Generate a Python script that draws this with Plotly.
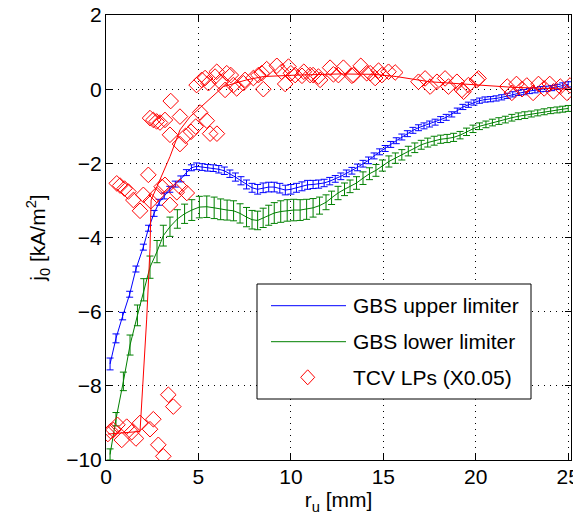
import plotly.graph_objects as go

# ---------------- data ----------------
upper_x = [0.22, 0.54, 0.9, 1.28, 1.62, 2.02, 2.3, 2.6, 2.88, 3.15, 3.45, 3.75, 4.05, 4.35, 4.62, 4.9,
           5.2, 5.5, 5.8, 6.1, 6.4, 6.7, 7.0, 7.3, 7.6, 7.9, 8.2, 8.5, 8.8, 9.1, 9.4, 9.7, 10.0,
           10.3, 10.6, 10.9, 11.2, 11.5, 11.8, 12.1, 12.4, 12.7, 13.0, 13.3, 13.6, 13.9, 14.2,
           14.5, 14.8, 15.1, 15.4, 15.7, 16.0, 16.3, 16.6, 16.9, 17.2, 17.5, 17.8, 18.1, 18.4,
           18.7, 19.0, 19.3, 19.6, 19.9, 20.2, 20.5, 20.8, 21.1, 21.4, 21.7, 22.0, 22.3, 22.6,
           22.9, 23.2, 23.5, 23.8, 24.1, 24.4, 24.7, 25.0]
upper_y = [-7.41, -6.72, -6.12, -5.53, -4.85, -4.26, -3.75, -3.35, -3.05, -2.88, -2.7, -2.56, -2.42,
           -2.25, -2.12, -2.08, -2.1, -2.12, -2.13, -2.16, -2.2, -2.28, -2.37, -2.47, -2.57, -2.66,
           -2.7, -2.66, -2.64, -2.64, -2.67, -2.72, -2.7, -2.66, -2.62, -2.58, -2.57, -2.56, -2.53,
           -2.48, -2.42, -2.35, -2.27, -2.2, -2.11, -2.01, -1.92, -1.8, -1.69, -1.6, -1.49, -1.39,
           -1.29, -1.2, -1.11, -1.04, -0.99, -0.94, -0.89, -0.82, -0.76, -0.68, -0.58, -0.48,
           -0.42, -0.36, -0.31, -0.28, -0.27, -0.25, -0.22, -0.18, -0.14, -0.1, -0.08, -0.05,
           -0.03, 0.0, 0.01, 0.03, 0.06, 0.1, 0.13]
upper_err = [0.16, 0.12, 0.1, 0.08, 0.08, 0.08, 0.08, 0.08, 0.08, 0.08, 0.08, 0.08, 0.08, 0.08,
             0.08, 0.09, 0.09, 0.09, 0.09, 0.1, 0.1, 0.1, 0.11, 0.11, 0.12, 0.12, 0.13, 0.13,
             0.13, 0.13, 0.13, 0.13, 0.13, 0.12, 0.12, 0.12, 0.11, 0.11, 0.1, 0.1, 0.09, 0.09,
             0.09, 0.09, 0.09, 0.09, 0.09, 0.08, 0.08, 0.08, 0.08, 0.08, 0.08, 0.08, 0.08, 0.08,
             0.08, 0.08, 0.08, 0.08, 0.08, 0.07, 0.07, 0.07, 0.07, 0.07, 0.07, 0.07, 0.07, 0.07,
             0.07, 0.07, 0.07, 0.07, 0.07, 0.07, 0.07, 0.07, 0.07, 0.07, 0.07, 0.07, 0.07]

lower_x = [0.22, 0.54, 0.94, 1.3, 1.7, 2.04, 2.38, 2.76, 3.1, 3.46, 3.86, 4.25, 4.64, 5.05, 5.45,
           5.85, 6.2, 6.55, 6.9, 7.25, 7.6, 7.9, 8.2, 8.5, 8.8, 9.1, 9.45, 9.8, 10.15, 10.5,
           10.85, 11.2, 11.55, 11.9, 12.2, 12.55, 12.9, 13.2, 13.55, 13.9, 14.25, 14.6, 14.95,
           15.3, 15.65, 16.0, 16.35, 16.7, 17.05, 17.4, 17.75, 18.1, 18.45, 18.8, 19.15, 19.5,
           19.85, 20.2, 20.55, 20.9, 21.25, 21.6, 21.95, 22.3, 22.65, 23.0, 23.35, 23.7, 24.05,
           24.4, 24.7, 25.0]
lower_y = [-9.85, -8.9, -7.88, -6.9, -6.1, -5.41, -4.8, -4.38, -3.95, -3.71, -3.5, -3.36, -3.26,
           -3.18, -3.17, -3.2, -3.24, -3.26, -3.28, -3.35, -3.45, -3.52, -3.54, -3.47, -3.4,
           -3.34, -3.3, -3.27, -3.26, -3.26, -3.24, -3.2, -3.14, -3.05, -2.93, -2.8, -2.7, -2.62,
           -2.53, -2.4, -2.28, -2.19, -2.06, -1.95, -1.86, -1.77, -1.67, -1.58, -1.5, -1.44,
           -1.39, -1.35, -1.33, -1.3, -1.24, -1.15, -1.07, -1.0, -0.95, -0.9, -0.86, -0.82,
           -0.77, -0.73, -0.7, -0.67, -0.64, -0.61, -0.58, -0.56, -0.54, -0.52]
lower_err = [0.15, 0.18, 0.25, 0.27, 0.28, 0.3, 0.3, 0.3, 0.28, 0.26, 0.25, 0.26, 0.28, 0.29,
             0.29, 0.29, 0.28, 0.27, 0.27, 0.26, 0.26, 0.25, 0.25, 0.26, 0.27, 0.28, 0.29, 0.29,
             0.29, 0.28, 0.27, 0.25, 0.23, 0.2, 0.18, 0.18, 0.17, 0.17, 0.17, 0.17, 0.16, 0.16,
             0.15, 0.15, 0.14, 0.14, 0.13, 0.13, 0.12, 0.12, 0.12, 0.11, 0.11, 0.11, 0.1, 0.1,
             0.1, 0.09, 0.09, 0.09, 0.09, 0.09, 0.09, 0.09, 0.09, 0.08, 0.08, 0.08, 0.08, 0.08,
             0.08, 0.08]

lp_x = [0.1, 0.25, 0.4, 0.62, 0.85, 1.12, 1.39, 1.62, 1.84, 2.38, 2.56, 2.83, 3.1, 3.37, 3.64,
        0.58, 0.76, 1.0, 1.21, 1.48, 1.84, 2.02, 2.29, 2.42, 2.74, 3.01, 3.19, 3.46, 3.83, 4.0, 4.37,
        2.38, 2.56, 2.74, 2.92, 3.19, 3.5, 3.46, 4.0, 4.0, 4.3, 4.6, 4.85, 5.09, 5.45, 5.63, 6.0,
        4.9, 5.18, 5.36, 5.54, 5.9, 5.99, 6.17, 6.44, 6.53, 6.75, 6.89, 7.07, 7.43, 7.52, 7.97,
        8.24, 8.42, 8.51, 8.69, 9.24, 9.5, 9.69, 9.87, 10.0, 10.23, 10.6, 10.7, 11.04, 11.2,
        11.49, 11.58, 12.12, 12.3, 12.57, 12.84, 13.3, 13.38, 13.78, 14.1, 14.29, 14.56, 14.74,
        14.92, 15.28, 15.64,
        16.9, 17.26, 17.53, 17.9, 18.34, 18.52, 18.98, 19.25, 19.6, 20.06, 19.34, 20.15,
        21.7, 21.95, 22.2, 22.5, 22.76, 23.1, 23.39, 23.7, 24.0, 24.2, 24.57, 24.93, 25.1]
lp_y = [-9.3, -9.22, -9.19, -9.05, -9.46, -9.1, -9.25, -9.42, -9.0, -9.17, -8.9, -9.59, -9.9,
        -8.24, -8.56,
        -2.54, -2.6, -2.68, -2.76, -2.99, -3.28, -2.85, -2.31, -3.02, -2.85, -2.63, -2.58, -3.12,
        -2.78, -2.63, -2.8,
        -0.78, -0.83, -0.87, -0.9, -0.83, -0.32, -1.23, -0.74, -1.48, -1.26, -1.15, -1.01, -0.63,
        -0.85, -1.2, -1.2,
        0.11, 0.25, 0.3, 0.16, 0.34, 0.47, 0.2, -0.02, 0.43, 0.38, 0.11, 0.02, 0.16, 0.25, 0.3,
        0.38, 0.43, 0.0, 0.54, 0.63, 0.47, 0.14, 0.61, 0.43, 0.38, 0.36, 0.47, 0.38, 0.38,
        0.34, 0.25, 0.58, 0.4, 0.38, 0.58, 0.36, 0.38, 0.63, 0.43, 0.43, 0.3, 0.5,
        0.38, 0.47, 0.45,
        0.2, 0.29, 0.07, 0.2, 0.29, 0.07, 0.2, -0.02, 0.11, 0.25, -0.07, 0.29,
        0.07, -0.1, 0.14, 0.0, 0.1, -0.1, 0.14, 0.02, 0.14, -0.06, 0.07, -0.1, 0.1]

fit_x = [0.1, 1.84, 2.2, 2.38, 2.44, 3.46, 4.0, 4.55, 5.09, 6.35, 7.6, 8.5, 10.3, 12.66, 14.5,
         15.7, 17.5, 19.9, 22.0, 25.1]
fit_y = [-9.3, -9.23, -6.2, -4.3, -2.99, -1.82, -1.1, -0.74, -0.5, 0.07, 0.25, 0.34, 0.38, 0.41,
         0.4, 0.34, 0.2, 0.11, 0.05, 0.0]

x_ticks = [0, 5, 10, 15, 20, 25]
y_ticks = [-10, -8, -6, -4, -2, 0, 2]
legend_names = ["GBS upper limiter", "GBS lower limiter", "TCV LPs (X0.05)"]

BLUE = "rgb(0,0,255)"
GREEN = "rgb(0,128,0)"
RED = "rgb(255,0,0)"
FONT = "Liberation Sans, Arial, Helvetica, sans-serif"

fig = go.Figure()
fig.add_trace(go.Scatter(
    x=upper_x, y=upper_y, mode="lines", line=dict(color=BLUE, width=1),
    error_y=dict(type="data", array=upper_err, visible=True, color=BLUE, thickness=1, width=3.5),
    name=legend_names[0], showlegend=False))
fig.add_trace(go.Scatter(
    x=lower_x, y=lower_y, mode="lines", line=dict(color=GREEN, width=1),
    error_y=dict(type="data", array=lower_err, visible=True, color=GREEN, thickness=1, width=3.5),
    name=legend_names[1], showlegend=False))
fig.add_trace(go.Scatter(
    x=lp_x, y=lp_y, mode="markers",
    marker=dict(symbol="diamond-open", size=12, color=RED, line=dict(color=RED, width=1)),
    name=legend_names[2], showlegend=False))
fig.add_trace(go.Scatter(
    x=fit_x, y=fit_y, mode="lines", line=dict(color=RED, width=1),
    showlegend=False, hoverinfo="skip"))

# ---- geometry: page body has an 8px margin, so the figure starts at (8, 8) ----
OFF = 8
WIN_W, WIN_H = 581, 523
W, H = WIN_W - OFF, WIN_H - 2 * OFF
# plot area in window pixels: left 106, right 571, top 15, bottom 460
L, R, T = 106 - OFF, WIN_W - 571, 15 - OFF
B = H - T - 445
pw, ph = W - L - R, H - T - B


def px(xw):
    return (xw - OFF - L) / pw


def py(yw):
    return (H - B - (yw - OFF)) / ph


shapes = []
annotations = []
# legend box
shapes.append(dict(type="rect", xref="paper", yref="paper",
                   x0=px(257), x1=px(531), y0=py(399), y1=py(284),
                   line=dict(color="black", width=1), fillcolor="white", layer="above"))
rows = [305.7, 341.7, 377.3]
for yy, col in zip(rows[:2], [BLUE, GREEN]):
    shapes.append(dict(type="line", xref="paper", yref="paper",
                       x0=px(271), x1=px(346), y0=py(yy), y1=py(yy),
                       line=dict(color=col, width=1), layer="above"))
cx, cy, hw, hh = 307.7, rows[2], 7.0, 7.5
shapes.append(dict(type="path", xref="paper", yref="paper", layer="above",
                   path=(f"M {px(cx)},{py(cy - hh)} L {px(cx + hw)},{py(cy)} "
                         f"L {px(cx)},{py(cy + hh)} L {px(cx - hw)},{py(cy)} Z"),
                   line=dict(color=RED, width=1)))
for yy, name in zip(rows, legend_names):
    annotations.append(dict(xref="paper", yref="paper", x=px(351), y=py(yy),
                            xanchor="left", yanchor="middle", text=name, showarrow=False,
                            font=dict(family=FONT, size=21, color="black")))

axis_common = dict(
    showline=True, linecolor="black", linewidth=1, mirror="ticks",
    ticks="inside", ticklen=6, tickcolor="black", tickwidth=1,
    showgrid=True, gridcolor="black", gridwidth=1, griddash="1px,5px",
    zeroline=False, tickfont=dict(family=FONT, size=21, color="black"),
    automargin=False, ticklabeloverflow="allow",
)

fig.update_layout(
    width=W, height=H,
    margin=dict(l=L, r=R, t=T, b=B, pad=0),
    paper_bgcolor="white", plot_bgcolor="white",
    font=dict(family=FONT, size=21, color="black"),
    xaxis=dict(range=[0, 25.15], tickvals=x_ticks, ticklabelstandoff=-2,
               title=dict(text="r<sub>u</sub> [mm]", standoff=0,
                          font=dict(family=FONT, size=21)),
               **axis_common),
    yaxis=dict(range=[-10, 2], tickvals=y_ticks, ticklabelstandoff=-1,
               title=dict(text="j<sub>0</sub> [kA/m<sup>2</sup>]", standoff=14,
                          font=dict(family=FONT, size=21)),
               **axis_common),
    shapes=shapes, annotations=annotations,
    showlegend=False,
)

fig.write_html("out.html")
